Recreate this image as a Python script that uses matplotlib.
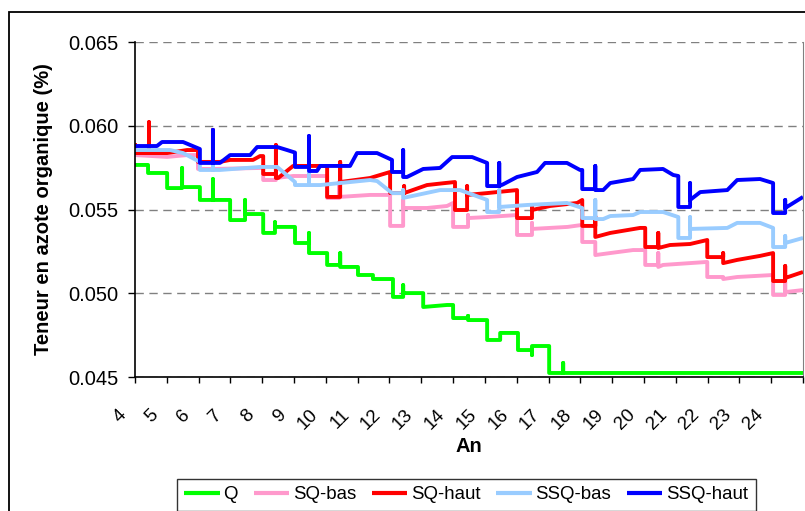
import numpy as np
import matplotlib
matplotlib.use("Agg")
import matplotlib.pyplot as plt
from matplotlib.patches import Rectangle
from matplotlib.transforms import ScaledTranslation

plt.rcParams['font.family'] = ['Liberation Sans', 'DejaVu Sans']

# years on the x axis (labels 4..24, axis runs to 25)
years = list(range(4, 26))
year_labels = [str(y) for y in range(4, 25)] + ['']
y_ticks = [0.045, 0.050, 0.055, 0.060, 0.065]

# series: (year, teneur) vertices of each stepped curve
q = np.array([
    (4.00, 0.05766), (4.41, 0.05766), (4.41, 0.05718), (5.01, 0.05718), (5.01, 0.05628),
    (5.48, 0.05628), (5.48, 0.05748), (5.48, 0.05634), (6.04, 0.05634), (6.04, 0.05557),
    (6.45, 0.05557), (6.45, 0.05682), (6.45, 0.05557), (6.99, 0.05557), (6.99, 0.05437),
    (7.46, 0.05437), (7.46, 0.05557), (7.46, 0.05473), (8.03, 0.05473), (8.03, 0.05360),
    (8.40, 0.05360), (8.40, 0.05425), (8.40, 0.05396), (9.03, 0.05396), (9.03, 0.05300),
    (9.47, 0.05300), (9.47, 0.05360), (9.47, 0.05240), (10.04, 0.05240), (10.04, 0.05169),
    (10.45, 0.05169), (10.45, 0.05240), (10.45, 0.05157), (11.01, 0.05157), (11.01, 0.05109),
    (11.48, 0.05109), (11.48, 0.05085), (12.11, 0.05085), (12.11, 0.04978), (12.43, 0.04978),
    (12.43, 0.05049), (12.43, 0.05001), (13.06, 0.05001), (13.06, 0.04918), (13.81, 0.04930),
    (14.00, 0.04930), (14.00, 0.04852), (14.47, 0.04852), (14.47, 0.04865), (14.47, 0.04840),
    (15.07, 0.04840), (15.07, 0.04721), (15.48, 0.04721), (15.48, 0.04763), (16.04, 0.04763),
    (16.04, 0.04661), (16.48, 0.04661), (16.48, 0.04631), (16.48, 0.04685), (17.02, 0.04685),
    (17.02, 0.04524), (17.46, 0.04524), (17.46, 0.04584), (17.46, 0.04524), (25.00, 0.04524),
])

sq_bas = np.array([
    (4.00, 0.05825), (5.01, 0.05814), (5.64, 0.05825), (5.98, 0.05825), (5.98, 0.05742),
    (6.45, 0.05742), (6.45, 0.05760), (6.45, 0.05742), (7.93, 0.05748), (8.03, 0.05748),
    (8.03, 0.05676), (8.43, 0.05676), (8.43, 0.05740), (8.43, 0.05688), (8.97, 0.05700),
    (10.04, 0.05700), (10.04, 0.05569), (10.42, 0.05569), (10.42, 0.05664), (10.42, 0.05575),
    (11.39, 0.05587), (12.02, 0.05587), (12.02, 0.05402), (12.43, 0.05402), (12.43, 0.05557),
    (12.43, 0.05509), (13.18, 0.05509), (13.81, 0.05521), (14.00, 0.05539), (14.00, 0.05396),
    (14.47, 0.05396), (14.47, 0.05467), (14.47, 0.05449), (15.07, 0.05455), (16.01, 0.05467),
    (16.01, 0.05348), (16.48, 0.05348), (16.48, 0.05420), (16.48, 0.05384), (17.60, 0.05396),
    (18.06, 0.05408), (18.06, 0.05306), (18.47, 0.05306), (18.47, 0.05228), (18.94, 0.05240),
    (19.66, 0.05258), (20.04, 0.05258), (20.04, 0.05169), (20.45, 0.05169), (20.45, 0.05240),
    (20.45, 0.05157), (20.60, 0.05169), (21.99, 0.05187), (21.99, 0.05097), (22.49, 0.05097),
    (22.49, 0.05085), (22.93, 0.05097), (24.06, 0.05109), (24.06, 0.04990), (24.44, 0.04990),
    (24.44, 0.05067), (24.44, 0.05007), (25.00, 0.05019),
])

sq_haut = np.array([
    (4.00, 0.05897), (4.00, 0.05837), (4.44, 0.05837), (4.44, 0.06022), (4.44, 0.05837),
    (5.01, 0.05837), (5.64, 0.05855), (5.98, 0.05855), (5.98, 0.05784), (6.45, 0.05784),
    (6.45, 0.05975), (6.45, 0.05784), (6.67, 0.05784), (6.99, 0.05796), (7.71, 0.05796),
    (7.93, 0.05819), (8.03, 0.05819), (8.03, 0.05712), (8.43, 0.05712), (8.43, 0.05885),
    (8.43, 0.05688), (8.50, 0.05688), (8.97, 0.05760), (10.04, 0.05760), (10.04, 0.05575),
    (10.45, 0.05575), (10.45, 0.05784), (10.45, 0.05664), (11.39, 0.05688), (12.02, 0.05724),
    (12.02, 0.05598), (12.46, 0.05598), (12.46, 0.05640), (12.46, 0.05598), (13.18, 0.05646),
    (13.75, 0.05658), (14.06, 0.05664), (14.06, 0.05497), (14.44, 0.05497), (14.44, 0.05640),
    (14.44, 0.05587), (15.07, 0.05598), (16.01, 0.05616), (16.01, 0.05449), (16.48, 0.05449),
    (16.48, 0.05515), (16.48, 0.05497), (17.05, 0.05521), (17.90, 0.05539), (18.06, 0.05557),
    (18.06, 0.05402), (18.47, 0.05402), (18.47, 0.05460), (18.47, 0.05336), (18.94, 0.05360),
    (19.88, 0.05390), (20.04, 0.05390), (20.04, 0.05276), (20.45, 0.05276), (20.45, 0.05360),
    (20.45, 0.05270), (20.82, 0.05288), (21.45, 0.05294), (21.99, 0.05318), (21.99, 0.05216),
    (22.49, 0.05216), (22.49, 0.05240), (22.49, 0.05180), (22.93, 0.05199), (23.65, 0.05223),
    (24.06, 0.05240), (24.06, 0.05073), (24.44, 0.05073), (24.44, 0.05163), (24.44, 0.05091),
    (25.00, 0.05127),
])

ssq_bas = np.array([
    (4.00, 0.05855), (5.10, 0.05855), (5.51, 0.05837), (6.04, 0.05784), (6.04, 0.05736),
    (6.45, 0.05736), (6.45, 0.05770), (6.45, 0.05736), (6.67, 0.05736), (7.93, 0.05754),
    (8.47, 0.05754), (9.03, 0.05664), (9.03, 0.05646), (9.47, 0.05646), (9.47, 0.05718),
    (9.47, 0.05646), (9.82, 0.05646), (11.39, 0.05676), (11.61, 0.05670), (12.08, 0.05598),
    (12.43, 0.05598), (12.43, 0.05616), (12.43, 0.05569), (13.59, 0.05616), (14.22, 0.05616),
    (15.07, 0.05557), (15.07, 0.05485), (15.45, 0.05485), (15.45, 0.05616), (15.45, 0.05515),
    (16.33, 0.05527), (17.58, 0.05539), (18.06, 0.05509), (18.06, 0.05449), (18.47, 0.05449),
    (18.47, 0.05557), (18.47, 0.05443), (18.72, 0.05443), (18.94, 0.05461), (19.66, 0.05467),
    (19.88, 0.05485), (20.60, 0.05485), (21.08, 0.05455), (21.08, 0.05330), (21.45, 0.05330),
    (21.45, 0.05455), (21.45, 0.05384), (22.62, 0.05390), (22.93, 0.05420), (23.65, 0.05420),
    (24.06, 0.05390), (24.06, 0.05276), (24.44, 0.05276), (24.44, 0.05342), (24.44, 0.05300),
    (25.00, 0.05330),
])

ssq_haut = np.array([
    (4.00, 0.05879), (4.69, 0.05879), (4.85, 0.05903), (5.51, 0.05903), (6.04, 0.05861),
    (6.04, 0.05778), (6.45, 0.05778), (6.45, 0.05975), (6.45, 0.05778), (6.67, 0.05778),
    (6.99, 0.05825), (7.62, 0.05825), (7.84, 0.05873), (8.47, 0.05873), (8.78, 0.05855),
    (9.03, 0.05840), (9.03, 0.05754), (9.47, 0.05754), (9.47, 0.05939), (9.47, 0.05730),
    (9.72, 0.05730), (9.82, 0.05760), (10.76, 0.05760), (10.98, 0.05837), (11.61, 0.05837),
    (12.08, 0.05796), (12.08, 0.05724), (12.43, 0.05724), (12.43, 0.05855), (12.43, 0.05694),
    (12.55, 0.05694), (13.06, 0.05742), (13.59, 0.05748), (13.97, 0.05813), (14.60, 0.05813),
    (15.07, 0.05778), (15.07, 0.05640), (15.45, 0.05640), (15.45, 0.05778), (15.45, 0.05640),
    (15.57, 0.05650), (16.01, 0.05694), (16.64, 0.05724), (16.89, 0.05778), (17.58, 0.05778),
    (17.99, 0.05736), (18.06, 0.05736), (18.06, 0.05622), (18.47, 0.05622), (18.47, 0.05760),
    (18.47, 0.05616), (18.72, 0.05616), (18.94, 0.05658), (19.66, 0.05682), (19.88, 0.05736),
    (20.60, 0.05742), (20.92, 0.05706), (21.08, 0.05700), (21.08, 0.05515), (21.45, 0.05515),
    (21.45, 0.05658), (21.45, 0.05557), (21.77, 0.05604), (22.62, 0.05616), (22.93, 0.05676),
    (23.65, 0.05682), (24.06, 0.05658), (24.06, 0.05479), (24.44, 0.05479), (24.44, 0.05557),
    (24.44, 0.05509), (25.00, 0.05575),
])

series = [
    ('Q', q, '#00FF00'),
    ('SQ-bas', sq_bas, '#FF99CC'),
    ('SQ-haut', sq_haut, '#FF0000'),
    ('SSQ-bas', ssq_bas, '#99CCFF'),
    ('SSQ-haut', ssq_haut, '#0000FF'),
]

W, H = 805, 511
fig = plt.figure(figsize=(W / 100, H / 100), dpi=100)
ax = fig.add_axes([135 / W, 1 - 377 / H, (803 - 135) / W, (377 - 42) / H])

handles = []
for name, pts, col in series:
    ln, = ax.plot(pts[:, 0], pts[:, 1], color=col, lw=2.8, label=name,
                  solid_joinstyle='round', solid_capstyle='butt')
    handles.append(ln)

ax.set_xlim(4, 25)
ax.set_ylim(0.045, 0.065)
ax.set_yticks(y_ticks)
ax.set_yticklabels(['%.3f' % v for v in y_ticks])
ax.set_xticks(years)
ax.set_xticklabels(year_labels)

ax.yaxis.grid(True, color='#808080', linestyle=(0, (6, 4)), lw=1)
ax.set_axisbelow(True)

ax.spines['top'].set_visible(False)
ax.spines['right'].set_color('#808080')
ax.spines['left'].set_linewidth(1.2)
ax.spines['bottom'].set_linewidth(1.2)

ax.tick_params(axis='y', direction='out', length=5, width=1, pad=7, labelsize=14.5)
ax.tick_params(axis='x', direction='out', length=4, width=1, pad=17, labelsize=13.5)
shift = ScaledTranslation(-5 / 100, 0, fig.dpi_scale_trans)
for lab in ax.get_xticklabels():
    lab.set_rotation(45)
    lab.set_ha('right')
    lab.set_va('top')
    lab.set_transform(lab.get_transform() + shift)

ax.set_ylabel('Teneur en azote organique (%)', fontsize=14.5, fontweight='bold')
ax.yaxis.set_label_coords((53 - 135) / 668, 0.5)
ax.set_xlabel('An', fontsize=14.5, fontweight='bold')
ax.xaxis.set_label_coords(0.5, (377 - 437) / 335)
ax.xaxis.label.set_va('top')

leg = fig.legend(handles=handles, loc='upper left', bbox_to_anchor=(177 / W, 1 - 479 / H),
                 ncol=5, frameon=True, fancybox=False, edgecolor='black', fontsize=13.4,
                 handlelength=1.9, handletextpad=0.2, columnspacing=0.85,
                 borderpad=0.4, borderaxespad=0)
leg.get_frame().set_linewidth(1.0)
for ln in leg.get_lines():
    ln.set_linewidth(3)

# chart-area frame (only its left and top edges fall inside the picture)
fig.add_artist(Rectangle((9 / W, -0.5), 2, 1 - 12 / H + 0.5, transform=fig.transFigure,
                         fill=False, ec='black', lw=1.3))

fig.savefig('out.png', dpi=100)
